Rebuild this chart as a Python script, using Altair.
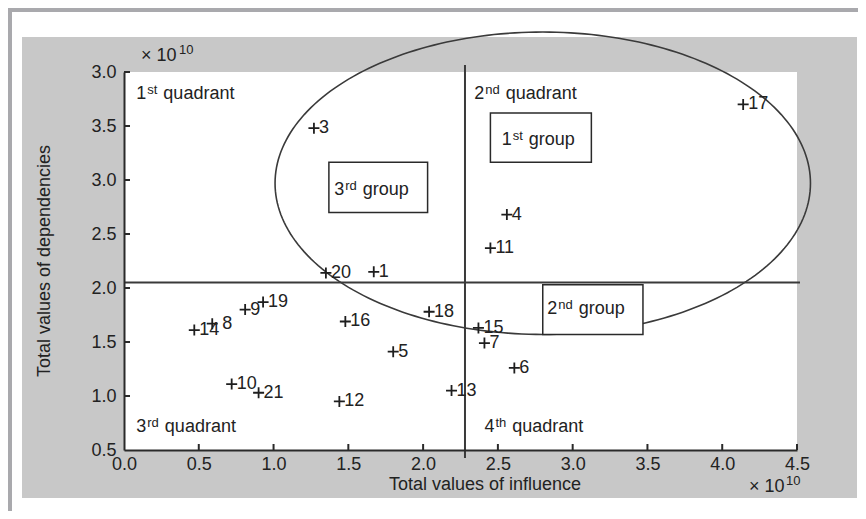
import altair as alt
import numpy as np
import pandas as pd

FONT = "Liberation Sans"
TXT = "#222222"
LINE = "#3a3a3a"

# ---- data (values in units of 1e10) ----
point_ids = ["1", "3", "4", "5", "6", "7", "8", "9", "10", "11",
             "12", "13", "14", "15", "16", "17", "18", "19", "20", "21"]
influence = [1.67, 1.27, 2.56, 1.80, 2.61, 2.41, 0.59, 0.81, 0.72, 2.45,
             1.44, 2.19, 0.47, 2.37, 1.48, 4.14, 2.04, 0.93, 1.35, 0.90]
dependencies = [2.15, 3.48, 2.68, 1.41, 1.26, 1.49, 1.67, 1.80, 1.11, 2.37,
                0.95, 1.05, 1.61, 1.63, 1.69, 3.70, 1.78, 1.87, 2.14, 1.03]

x_ticks = [0.0, 0.5, 1.0, 1.5, 2.0, 2.5, 3.0, 3.5, 4.0, 4.5]
x_tick_labels = ["0.0", "0.5", "1.0", "1.5", "2.0", "2.5", "3.0", "3.5", "4.0", "4.5"]
y_ticks = [0.5, 1.0, 1.5, 2.0, 2.5, 3.0, 3.5, 4.0]
y_tick_labels = ["0.5", "1.0", "1.5", "2.0", "2.5", "3.0", "3.5", "3.0"]

quad_split_x = [2.28]
quad_split_y = [2.05]

ellipse_center = [2.80, 2.97]
ellipse_radii = [1.79, 1.40]

group_num = ["1", "2", "3"]
group_sup = ["st", "nd", "rd"]
group_x1 = [2.45, 2.80, 1.37]
group_x2 = [3.125, 3.47, 2.03]
group_y1 = [3.165, 1.57, 2.70]
group_y2 = [3.62, 2.03, 3.165]
group_text_x = [2.525, 2.83, 1.405]
group_text_y = [3.37, 1.81, 2.91]

quad_num = ["1", "2", "3", "4"]
quad_sup = ["st", "nd", "rd", "th"]
quad_text_x = [0.082, 2.342, 0.082, 2.41]
quad_text_y = [3.80, 3.80, 0.715, 0.715]

W, H = 673, 378
xs = alt.Scale(domain=[0, 4.5], nice=False, zero=False)
ys = alt.Scale(domain=[0.5, 4.0], nice=False, zero=False)


def label_expr(vals, labs):
    expr = "''"
    for v, l in reversed(list(zip(vals, labs))):
        expr = f"abs(datum.value - {v}) < 0.01 ? '{l}' : ({expr})"
    return expr


axis_common = dict(ticks=False, grid=False, title=None, domainColor="#2a2a2a",
                   domainWidth=2, labelFont=FONT, labelFontSize=18,
                   labelColor=TXT, labelFlush=False, labelOverlap=False, zindex=1)
x_axis = alt.Axis(values=x_ticks, labelExpr=label_expr(x_ticks, x_tick_labels),
                  labelPadding=5, **axis_common)
y_axis = alt.Axis(values=y_ticks, labelExpr=label_expr(y_ticks, y_tick_labels),
                  labelPadding=8, **axis_common)


def X(field):
    return alt.X(field, scale=xs, axis=x_axis, title=None)


def Y(field):
    return alt.Y(field, scale=ys, axis=y_axis, title=None)


one = pd.DataFrame({"a": [0]})


def px_rect(x1, x2, y1, y2, color):
    return alt.Chart(one).mark_rect(fill=color, stroke=None).encode(
        x=alt.value(x1), x2=alt.value(x2), y=alt.value(y1), y2=alt.value(y2))


layers = []
# frame and panels
layers.append(px_rect(-117, 742, -65, -60, "#a9a9ad"))
layers.append(px_rect(-117, -112, -65, 450, "#a9a9ad"))
layers.append(px_rect(-102, 733, -35, 426, "#c8c8c8"))
layers.append(px_rect(0, W, 0, H, "#ffffff"))

# ellipse outline (annotation shape)
t = np.linspace(0, 2 * np.pi, 241)
ell = pd.DataFrame({
    "t": np.arange(len(t)),
    "ex": ellipse_center[0] + ellipse_radii[0] * np.cos(t),
    "ey": ellipse_center[1] + ellipse_radii[1] * np.sin(t),
})
layers.append(alt.Chart(ell).mark_line(stroke=LINE, strokeWidth=1.6).encode(
    x=X("ex:Q"), y=Y("ey:Q"), order="t:Q"))

# quadrant split lines
layers.append(alt.Chart(pd.DataFrame({"qx": quad_split_x})).mark_rule(
    stroke=LINE, strokeWidth=2).encode(
    x=X("qx:Q"), y=alt.value(-7), y2=alt.value(386)))
layers.append(alt.Chart(pd.DataFrame({"qy": quad_split_y})).mark_rule(
    stroke=LINE, strokeWidth=2).encode(
    y=Y("qy:Q"), x=alt.value(0), x2=alt.value(676)))

# group boxes
gdf = pd.DataFrame({"x1": group_x1, "x2": group_x2, "y1": group_y1, "y2": group_y2})
layers.append(alt.Chart(gdf).mark_rect(fill="white", stroke="#2a2a2a", strokeWidth=1.5).encode(
    x=X("x1:Q"), x2="x2:Q", y=Y("y1:Q"), y2="y2:Q"))

# inward ticks
layers.append(alt.Chart(pd.DataFrame({"tx": x_ticks[1:]})).mark_rule(
    stroke="#2a2a2a", strokeWidth=2).encode(
    x=X("tx:Q"), y=alt.value(H - 6), y2=alt.value(H)))
layers.append(alt.Chart(pd.DataFrame({"ty": y_ticks[1:]})).mark_rule(
    stroke="#2a2a2a", strokeWidth=2).encode(
    y=Y("ty:Q"), x=alt.value(0), x2=alt.value(6)))

# points
pts = pd.DataFrame({"id": point_ids, "inf": influence, "dep": dependencies})
plus = "M-1,0L1,0M0,-1L0,1"
layers.append(alt.Chart(pts).mark_point(shape=plus, size=121, filled=False,
                                        stroke="#1e1e1e", strokeWidth=1.8, opacity=1).encode(
    x=X("inf:Q"), y=Y("dep:Q")))
layers.append(alt.Chart(pts[pts.id != "8"]).mark_text(
    align="left", baseline="middle", dx=5, font=FONT, fontSize=18, color=TXT).encode(
    x=X("inf:Q"), y=Y("dep:Q"), text="id:N"))
layers.append(alt.Chart(pts[pts.id == "8"]).mark_text(
    align="left", baseline="middle", dx=10, font=FONT, fontSize=18, color=TXT).encode(
    x=X("inf:Q"), y=Y("dep:Q"), text="id:N"))

SUPW = {"st": 10.1, "nd": 14.5, "rd": 11.6, "th": 10.8}


def ordinal_label(xv, yv, num, sup, word):
    d = pd.DataFrame({"lx": [xv], "ly": [yv]})
    enc = dict(x=X("lx:Q"), y=Y("ly:Q"))
    out = [
        alt.Chart(d).mark_text(text=num, align="left", baseline="middle", font=FONT,
                               fontSize=18, color=TXT).encode(**enc),
        alt.Chart(d).mark_text(text=sup, align="left", baseline="middle", font=FONT,
                               fontSize=13, color=TXT, dx=11, dy=-4).encode(**enc),
        alt.Chart(d).mark_text(text=word, align="left", baseline="middle", font=FONT,
                               fontSize=18, color=TXT, dx=11 + SUPW[sup] + 6).encode(**enc),
    ]
    return out


for i in range(4):
    layers += ordinal_label(quad_text_x[i], quad_text_y[i], quad_num[i], quad_sup[i], "quadrant")
for i in range(3):
    layers += ordinal_label(group_text_x[i], group_text_y[i], group_num[i], group_sup[i], "group")


def px_text(xp, yp, text, size, angle=0, align="left"):
    return alt.Chart(one).mark_text(text=text, align=align, baseline="middle", font=FONT,
                                    fontSize=size, color=TXT, angle=angle).encode(
        x=alt.value(xp), y=alt.value(yp))


# axis titles
layers.append(px_text(485 - 124, 485 - 72, "Total values of influence", 18, align="center"))
layers.append(px_text(45 - 124, 261 - 72, "Total values of dependencies", 18, angle=270, align="center"))
# exponent labels
layers.append(px_text(141 - 124, 56 - 72, "× 10", 18))
layers.append(px_text(179 - 124, 50 - 72, "10", 13))
layers.append(px_text(749 - 124, 487 - 72, "× 10", 18))
layers.append(px_text(786 - 124, 481 - 72, "10", 13))

chart = alt.layer(*layers).properties(
    width=W, height=H,
    autosize=alt.AutoSizeParams(type="none"),
    padding={"left": 116, "top": 64, "right": 61, "bottom": 61},
).configure(background="white").configure_view(strokeWidth=0, fill=None)

chart.save("out.html", embed_options={"renderer": "svg", "actions": False})
